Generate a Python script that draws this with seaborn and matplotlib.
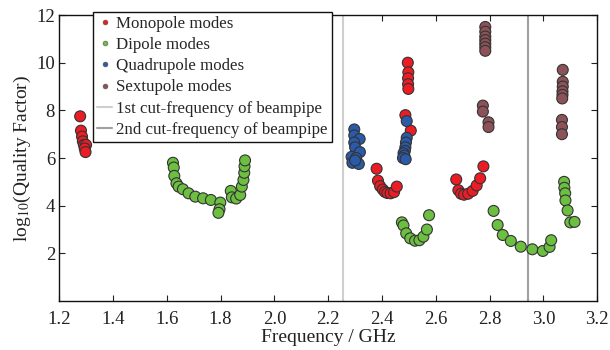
import numpy as np
import pandas as pd
import matplotlib
matplotlib.use("Agg")
import matplotlib.pyplot as plt
from matplotlib.lines import Line2D
import seaborn as sns

# ---- data ----
mono_f = [1.278, 1.281, 1.285, 1.288, 1.292, 1.300, 1.295, 1.298,
          2.496, 2.498, 2.497, 2.497, 2.498, 2.487, 2.507,
          2.380, 2.385, 2.393, 2.403, 2.411, 2.420, 2.432, 2.445, 2.455,
          2.676, 2.684, 2.694, 2.705, 2.720, 2.737, 2.752, 2.765, 2.777]
mono_q = [7.75, 7.15, 6.9, 6.7, 6.55, 6.55, 6.4, 6.25,
          10.0, 9.6, 9.35, 9.1, 8.9, 7.8, 7.15,
          5.55, 5.05, 4.82, 4.68, 4.58, 4.53, 4.52, 4.57, 4.8,
          5.1, 4.65, 4.5, 4.46, 4.5, 4.62, 4.85, 5.15, 5.65]

dip_f = [1.623, 1.626, 1.628, 1.636, 1.644, 1.660, 1.681, 1.706, 1.735, 1.764, 1.799, 1.796, 1.792,
         1.838, 1.842, 1.858, 1.873, 1.879, 1.885, 1.888, 1.889, 1.891,
         2.474, 2.480, 2.490, 2.505, 2.523, 2.539, 2.554, 2.567, 2.575,
         2.815, 2.830, 2.849, 2.879, 2.916, 2.959, 2.998, 3.023, 3.029,
         3.077, 3.078, 3.081, 3.082, 3.090, 3.100, 3.116]
dip_q = [5.8, 5.6, 5.25, 4.94, 4.8, 4.69, 4.52, 4.38, 4.31, 4.24, 4.13, 3.85, 3.7,
         4.62, 4.35, 4.3, 4.45, 4.8, 5.08, 5.38, 5.65, 5.9,
         3.3, 3.17, 2.84, 2.63, 2.53, 2.55, 2.7, 3.0, 3.6,
         3.78, 3.19, 2.77, 2.52, 2.28, 2.17, 2.1, 2.27, 2.55,
         5.0, 4.75, 4.52, 4.22, 3.8, 3.3, 3.32]

quad_f = [2.297, 2.297, 2.317, 2.297, 2.300, 2.318, 2.287, 2.304, 2.290, 2.314, 2.300,
          2.492, 2.492, 2.489, 2.487, 2.485, 2.480, 2.483, 2.478, 2.488]
quad_q = [7.2, 6.95, 6.8, 6.65, 6.45, 6.25, 6.05, 6.0, 5.8, 5.75, 5.9,
          7.55, 6.85, 6.65, 6.45, 6.3, 6.2, 6.1, 6.0, 5.95]

sext_f = [2.784, 2.784, 2.784, 2.784, 2.784, 2.784, 2.784,
          2.775, 2.775, 2.796, 2.796,
          3.072, 3.072, 3.072, 3.071, 3.071, 3.070, 3.069, 3.069, 3.069]
sext_q = [11.5, 11.3, 11.1, 10.95, 10.8, 10.65, 10.5,
          8.2, 7.95, 7.5, 7.3,
          9.7, 9.2, 9.0, 8.8, 8.65, 8.5, 7.6, 7.3, 7.0]

labels = ["Monopole modes", "Dipole modes", "Quadrupole modes", "Sextupole modes"]
colors = ["#ec1c24", "#6cbf40", "#2a5aa8", "#8c5257"]
cut1, cut2 = 2.256, 2.943
cut_labels = ["1st cut-frequency of beampipe", "2nd cut-frequency of beampipe"]

df = pd.DataFrame({
    "f": mono_f + dip_f + quad_f + sext_f,
    "q": mono_q + dip_q + quad_q + sext_q,
    "mode": [labels[0]] * len(mono_f) + [labels[1]] * len(dip_f)
            + [labels[2]] * len(quad_f) + [labels[3]] * len(sext_f),
})

sns.set_style("ticks")
plt.rcParams["font.family"] = ["Liberation Serif", "DejaVu Serif"]
plt.rcParams["mathtext.fontset"] = "stix"

fig = plt.figure(figsize=(6.1, 3.5), dpi=100)
ax = fig.add_axes([0.097, 0.14, 0.882, 0.817])

sns.scatterplot(data=df, x="f", y="q", hue="mode", hue_order=labels,
                palette=colors, s=62, edgecolor="#333333", linewidth=0.8,
                legend=False, ax=ax, zorder=3)

ax.axvline(cut1, color="#cfcfcf", lw=1.5, zorder=1)
ax.axvline(cut2, color="#a0a0a0", lw=1.5, zorder=1)

ax.set_xlim(1.2, 3.2)
ax.set_ylim(0, 12)
ax.set_xticks(np.arange(1.2, 3.21, 0.2))
ax.set_xticklabels([f"{v:.1f}" for v in np.arange(1.2, 3.21, 0.2)])
ax.set_yticks([2, 4, 6, 8, 10, 12])
ax.tick_params(direction="in", top=True, right=True, length=4, width=0.8,
               labelsize=13.5, colors="#222222")
ax.tick_params(axis="x", pad=7)
ax.tick_params(axis="y", pad=3)
for sp in ax.spines.values():
    sp.set_color("#111111")
    sp.set_linewidth(1.0)
ax.set_xlabel("Frequency / GHz", fontsize=14, labelpad=1, color="#222222")
ax.set_ylabel(r"log$_{10}$(Quality Factor)", fontsize=14, labelpad=2, color="#222222")

handles = [Line2D([], [], ls="none", marker="o", markersize=3.5,
                  markerfacecolor=c, markeredgecolor="#555555", markeredgewidth=0.4)
           for c in colors]
handles += [Line2D([], [], color="#cfcfcf", lw=1.5),
            Line2D([], [], color="#a0a0a0", lw=1.5)]
leg = ax.legend(handles, labels + cut_labels, loc="upper left",
                bbox_to_anchor=(93 / 610, 1 - 12 / 350), bbox_transform=fig.transFigure,
                fontsize=12.2, frameon=True, fancybox=False, framealpha=1,
                edgecolor="#111111", handlelength=0.9, handletextpad=0.2,
                labelspacing=0.3, borderpad=0.25, borderaxespad=0)
leg.get_frame().set_linewidth(1.0)
leg.set_zorder(5)

fig.savefig("out.png", dpi=100)
